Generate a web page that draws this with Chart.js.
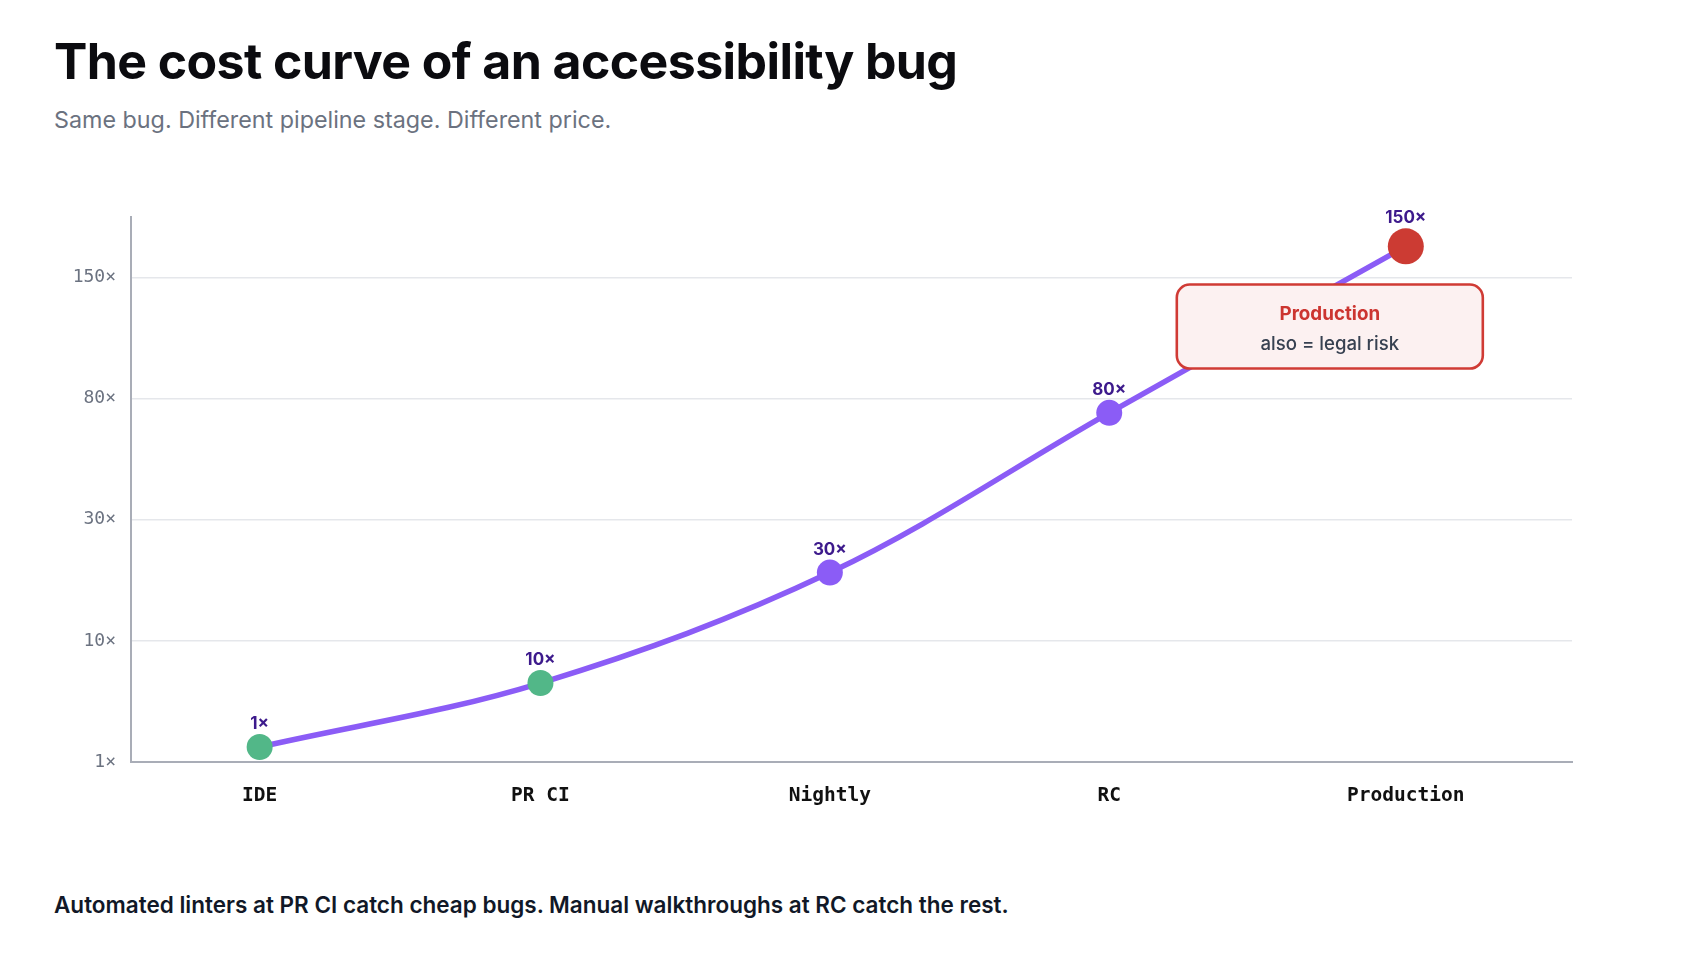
<!DOCTYPE html>
<html>
<head>
<meta charset="utf-8">
<script src="https://cdn.jsdelivr.net/npm/chart.js@4.4.1/dist/chart.umd.min.js"></script>
<style>
  html, body { margin: 0; padding: 0; background: #fff; }
  body { width: 1698px; height: 974px; position: relative; overflow: hidden; font-family: Inter, "Noto Sans", sans-serif; }
  #title { position: absolute; left: 54px; top: 36px; font-size: 50px; line-height: 50px; font-weight: 700; color: #0b0b0f; letter-spacing: -0.6px; white-space: nowrap; }
  #subtitle { position: absolute; left: 54px; top: 108px; font-size: 23.3px; line-height: 23px; color: #6b7280; white-space: nowrap; }
  #caption { position: absolute; left: 54px; top: 894px; font-size: 22.5px; line-height: 22px; font-weight: 600; color: #111827; white-space: nowrap; }
  #wrap { position: absolute; left: 0; top: 180px; width: 1698px; height: 644px; }
</style>
</head>
<body>
<div id="title">The cost curve of an accessibility bug</div>
<div id="subtitle">Same bug. Different pipeline stage. Different price.</div>
<div id="wrap"><canvas id="chart"></canvas></div>
<div id="caption">Automated linters at PR CI catch cheap bugs. Manual walkthroughs at RC catch the rest.</div>

<script>
// pipeline stages and where each sits along the x axis
const stages = ['IDE', 'PR CI', 'Nightly', 'RC', 'Production'];
const stagePos = [0, 0.98, 1.99, 2.965, 4];

// cost multiplier shown above each point
const costLabels = ['1×', '10×', '30×', '80×', '150×'];

// height of each point on the evenly stepped y axis (0 = 1×, 4 = 150×)
const curveHeight = [0.124, 0.652, 1.564, 2.883, 4.258];

// y axis tick labels, one per step
const tickLabels = ['1×', '10×', '30×', '80×', '150×'];

const pointColors = ['#52b788', '#52b788', '#8b5cf6', '#8b5cf6', '#cc3b33'];
const pointSizes = [13, 13, 13, 13, 18];

const note = { stage: 4, title: 'Production', text: 'also = legal risk' };

const overlay = {
    id: 'overlay',
    afterDatasetsDraw(chart) {
        const ctx = chart.ctx;
        const xs = chart.scales.x, ys = chart.scales.y;
        ctx.save();

        // callout box for production
        let cx = xs.getPixelForValue(stagePos[note.stage]) - 76;
        let top = ys.getPixelForValue(4) + 7;
        let w = 306, h = 84;
        ctx.beginPath();
        ctx.roundRect(cx - w / 2, top, w, h, 13);
        ctx.fillStyle = '#fcf1f1';
        ctx.fill();
        ctx.lineWidth = 2.6;
        ctx.strokeStyle = '#d03b35';
        ctx.stroke();
        ctx.textAlign = 'center';
        ctx.textBaseline = 'alphabetic';
        ctx.fillStyle = '#cc3530';
        ctx.font = '700 18.8px Inter';
        ctx.fillText(note.title, cx, top + 35);
        ctx.fillStyle = '#374151';
        ctx.font = '500 18.6px Inter';
        ctx.fillText(note.text, cx, top + 65);

        // value labels above the points
        const meta = chart.getDatasetMeta(0);
        ctx.font = '700 17px Inter';
        ctx.fillStyle = '#3d1a8c';
        meta.data.forEach((pt, i) => {
            ctx.fillText(costLabels[i], pt.x, pt.y - pointSizes[i] - 5);
        });
        ctx.restore();
    }
};

new Chart(document.getElementById('chart'), {
    type: 'line',
    data: {
        datasets: [{
            data: stagePos.map((x, i) => ({ x: x, y: curveHeight[i] })),
            borderColor: '#8b5cf6',
            borderWidth: 5.5,
            tension: 0.35,
            pointRadius: pointSizes,
            pointHoverRadius: pointSizes,
            pointBackgroundColor: pointColors,
            pointBorderColor: pointColors,
            pointBorderWidth: 0,
            fill: false,
            clip: false
        }]
    },
    options: {
        responsive: true,
        maintainAspectRatio: false,
        animation: false,
        events: [],
        layout: { padding: { left: 0, right: 126, top: 37, bottom: 0 } },
        plugins: { legend: { display: false }, tooltip: { enabled: false } },
        scales: {
            x: {
                type: 'linear',
                min: -0.449,
                max: 4.58,
                afterBuildTicks(axis) { axis.ticks = stagePos.map(v => ({ value: v })); },
                afterFit(axis) { axis.height = 62; },
                grid: { display: false },
                border: { display: true, color: '#a9adb7', width: 2 },
                ticks: {
                    autoSkip: false,
                    maxRotation: 0,
                    padding: 14.5,
                    color: '#111111',
                    font: { family: 'DejaVu Sans Mono', size: 19.5, weight: 'bold' },
                    callback: (v, i) => stages[i]
                }
            },
            y: {
                min: 0,
                max: 4.5,
                afterFit(axis) { axis.width = 131; },
                grid: { color: '#e5e7eb', lineWidth: 1.5, drawTicks: false },
                border: { display: true, color: '#a9adb7', width: 2 },
                ticks: {
                    stepSize: 1,
                    includeBounds: false,
                    padding: 15,
                    color: '#6b7280',
                    font: { family: 'DejaVu Sans Mono', size: 18 },
                    callback: v => Number.isInteger(v) ? tickLabels[v] : ''
                }
            }
        }
    },
    plugins: [overlay]
});
</script>
</body>
</html>
